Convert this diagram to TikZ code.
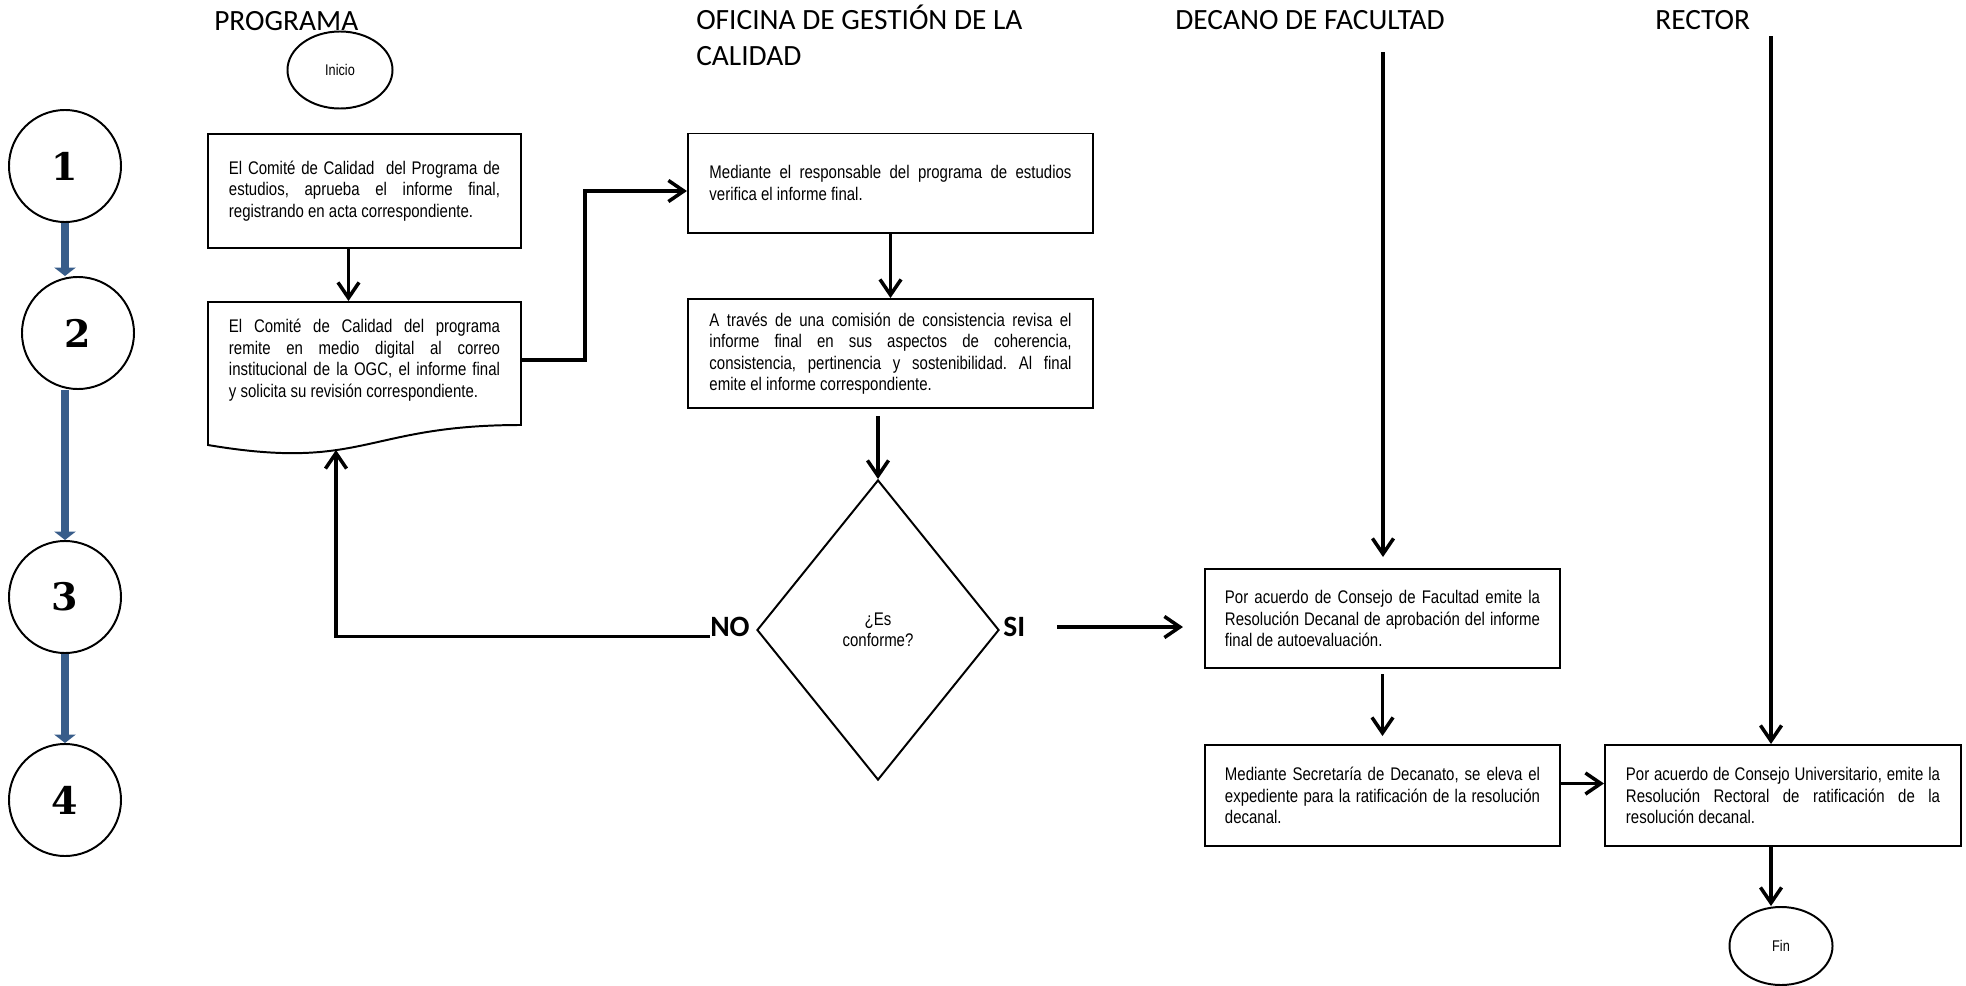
\documentclass[tikz,border=0pt]{standalone}
\usepackage{fontspec}
\usepackage{tikz}
\usetikzlibrary{arrows.meta}
\usetikzlibrary{shapes.geometric}
\newfontfamily\angosta{Liberation Sans}[FakeStretch=0.82]
\newfontfamily\titulos{Carlito}
\newfontfamily\numeros{DejaVu Serif}
\definecolor{azulfase}{RGB}{56,93,138}
\hyphenpenalty=10000
\tolerance=9999
\frenchspacing

\begin{document}
\begin{tikzpicture}[x=0.025cm,y=-0.025cm,
  caja/.style={draw,line width=1.4pt,inner sep=0pt,align=justify,font=\angosta\fontsize{13}{15.3}\selectfont},
  terminal/.style={draw,ellipse,line width=1.4pt,inner sep=0pt,font=\angosta\fontsize{11}{13}\selectfont},
  fase/.style={draw,circle,line width=1.4pt,minimum size=2.8cm,inner sep=0pt,font=\numeros\bfseries\fontsize{27}{30}\selectfont},
  titulo/.style={anchor=base west,inner sep=0pt,align=left,font=\titulos\fontsize{20.9}{24.9}\selectfont},
  rama/.style={inner sep=0pt,font=\titulos\bfseries\fontsize{21}{24}\selectfont},
  flecha/.style={line width=2.5pt,-{Straight Barb[length=11pt,width=15pt]}},
  flechafase/.style={line width=5.5pt,azulfase,-{Triangle[width=15pt,length=6pt]}}]

\useasboundingbox (0,0) rectangle (1966,986);

% cabeceras de carril
\node[titulo] (tprog) at (214,30) {PROGRAMA};
\node[titulo] (togc) at (696,65) {OFICINA DE GESTIÓN DE LA\\CALIDAD};
\node[titulo] (tdec) at (1175,29) {DECANO DE FACULTAD};
\node[titulo] (trec) at (1655,29) {RECTOR};

% fases
\node[fase] (n1) at (65,166) {1};
\node[fase] (n2) at (78,333) {2};
\node[fase] (n3) at (65,597) {3};
\node[fase] (n4) at (65,800) {4};
\draw[flechafase] (n1.south) -- (n1.south |- n2.north);
\draw[flechafase] (n3.north |- n2.south) -- (n3.north);
\draw[flechafase] (n3.south) -- (n4.north);

% programa
\node[terminal,minimum width=2.625cm,minimum height=1.925cm] (ini) at (340,70) {Inicio};
\node[caja,minimum width=7.825cm,minimum height=2.85cm,text width=6.775cm] (p1) at (364.5,191)
  {El Comité de Calidad\ \ del Programa de\linebreak estudios, aprueba el informe final,\linebreak registrando en acta correspondiente.};
\node[caja,draw=none,minimum width=7.825cm,minimum height=2.9cm,text width=6.775cm] (p2) at (364.5,360)
  {El Comité de Calidad del programa\linebreak remite en medio digital al correo\linebreak institucional de la OGC, el informe final\linebreak y solicita su revisión correspondiente.};
\draw[line width=1.4pt] (208,302) -- (521,302) -- (521,425) .. controls (364.5,425) and (364.5,471.5) .. (208,445) -- cycle;
\coordinate (retorno) at (336,450);

% oficina de gestion de la calidad
\node[caja,minimum width=10.125cm,minimum height=2.475cm,text width=9.05cm] (o1) at (890.5,183)
  {Mediante el responsable del programa de estudios\linebreak verifica el informe final.};
\node[caja,minimum width=10.125cm,minimum height=2.725cm,text width=9.05cm] (o2) at (890.5,353.5)
  {A través de una comisión de consistencia revisa el\linebreak informe final en sus aspectos de coherencia,\linebreak consistencia, pertinencia y sostenibilidad. Al final\linebreak emite el informe correspondiente.};
\node[draw,diamond,line width=1.4pt,minimum width=6.05cm,minimum height=7.5cm,inner sep=0pt,align=center,
  font=\angosta\fontsize{13}{15.3}\selectfont] (dec) at (878,630) {¿Es\\conforme?};
\node[rama,anchor=east,xshift=-0.15cm,yshift=0.075cm] (no) at (dec.west) {NO};
\node[rama,anchor=west,xshift=0.075cm,yshift=0.075cm] (si) at (dec.east) {SI};

% decano y rector
\node[caja,minimum width=8.875cm,minimum height=2.475cm,text width=7.875cm] (df1) at (1382.5,618.5)
  {Por acuerdo de Consejo de Facultad emite la\linebreak Resolución Decanal de aprobación del informe\linebreak final de autoevaluación.};
\node[caja,minimum width=8.875cm,minimum height=2.525cm,text width=7.875cm] (df2) at (1382.5,795.5)
  {Mediante Secretaría de Decanato, se eleva el\linebreak expediente para la ratificación de la resolución\linebreak decanal.};
\node[caja,minimum width=8.9cm,minimum height=2.525cm,text width=7.85cm] (r1) at (1783,795.5)
  {Por acuerdo de Consejo Universitario, emite la\linebreak Resolución Rectoral de ratificación de la\linebreak resolución decanal.};
\node[terminal,minimum width=2.575cm,minimum height=1.95cm] (fin) at (1781,946) {Fin};
\coordinate (lineadecano) at (1383,52);
\coordinate (linearector) at (1771,36);

% conectores
\draw[flecha] ([xshift=-0.4cm]p1.south) -- ([xshift=-0.4cm]p2.north);
\draw[flecha] (p2.east) -- (585,360) |- ([yshift=-0.2cm]o1.west);
\draw[flecha] (o1.south) -- (o2.north);
\draw[flecha,shorten <=0.175cm] (dec.north |- o2.south) -- (dec.north);
\draw[flecha] (no.base west) -| (retorno);
\draw[flecha,shorten <=0.8cm,shorten >=0.525cm] (si.east) -- (si.east -| df1.west);
\draw[flecha,shorten >=0.275cm] (lineadecano) -- (lineadecano |- df1.north);
\draw[flecha,shorten <=0.125cm,shorten >=0.2cm] (df1.south) -- (df2.north);
\draw[flecha] ([yshift=0.3cm]df2.east) -- ([yshift=0.3cm]r1.west);
\draw[flecha] (linearector) -- (linearector |- r1.north);
\draw[flecha] (linearector |- r1.south) -- (linearector |- fin.north);

\end{tikzpicture}
\end{document}
